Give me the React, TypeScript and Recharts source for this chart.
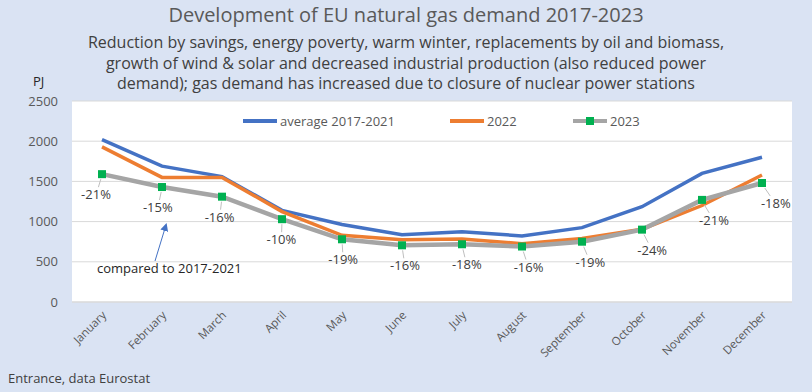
import { LineChart, Line, XAxis, YAxis, CartesianGrid, LabelList } from "recharts";

const months = [
  "January", "February", "March", "April", "May", "June",
  "July", "August", "September", "October", "November", "December",
];
const avg2017to2021 = [2020, 1690, 1560, 1140, 965, 838, 875, 822, 925, 1185, 1600, 1800];
const demand2022 = [1930, 1550, 1550, 1125, 830, 775, 785, 725, 790, 905, 1200, 1580];
const demand2023 = [1590, 1430, 1310, 1030, 780, 705, 718, 690, 750, 900, 1270, 1480];
const changeLabels = ["-21%", "-15%", "-16%", "-10%", "-19%", "-16%", "-18%", "-16%", "-19%", "-24%", "-21%", "-18%"];
const yTicks = [0, 500, 1000, 1500, 2000, 2500];
const subtitleLines = [
  "Reduction by savings, energy poverty, warm winter, replacements by oil and biomass,",
  "growth of wind & solar and decreased industrial production (also reduced power",
  "demand); gas demand has increased due to closure of nuclear power stations",
];

const data = months.map((m, i) => ({
  month: m,
  avg: avg2017to2021[i],
  y2022: demand2022[i],
  y2023: demand2023[i],
}));

const FONT = '"Open Sans", sans-serif';
const BG = "#dae3f3";
const BLUE = "#4472c4";
const ORANGE = "#ed7d31";
const GREY = "#a5a5a5";
const GREEN = "#00b050";

const MonthTick = (props: any) => {
  const { x, y, payload } = props;
  return (
    <text
      transform={`translate(${x + 5},${y + 6}) rotate(-45)`}
      textAnchor="end"
      fontSize={11.5}
      fill="#595959"
      fontFamily={FONT}
    >
      {payload.value}
    </text>
  );
};

const SquareDot = (props: any) => {
  const { cx, cy, index } = props;
  return <rect key={index} x={cx - 4} y={cy - 4} width={8} height={8} fill={GREEN} />;
};

const ChangeLabel = (props: any) => {
  const { x, y, index } = props;
  const dx = -6 + index * 1.8;
  const dy = 21;
  return (
    <g key={index}>
      <line x1={x + dx * 0.2} y1={y + 5} x2={x + dx * 0.6} y2={y + dy - 8} stroke="#bfbfbf" strokeWidth={1} />
      <text x={x + dx} y={y + dy + 4} textAnchor="middle" fontSize={13} fill="#404040" fontFamily={FONT}>
        {changeLabels[index]}
      </text>
    </g>
  );
};

const legendItems = [
  { name: "average 2017-2021", color: BLUE, left: 242, marker: false },
  { name: "2022", color: ORANGE, left: 449, marker: false },
  { name: "2023", color: GREY, left: 572, marker: true },
];

export default function App() {
  return (
    <div
      style={{
        position: "absolute",
        left: 0,
        top: 0,
        width: 812,
        height: 392,
        background: BG,
        overflow: "hidden",
        fontFamily: FONT,
      }}
    >
      <div style={{ position: "absolute", top: 1, width: 812, textAlign: "center", fontSize: 20, color: "#595959" }}>
        Development of EU natural gas demand 2017-2023
      </div>
      <div
        style={{
          position: "absolute",
          top: 32,
          left: 0,
          width: 812,
          textAlign: "center",
          fontSize: 16,
          lineHeight: "20.5px",
          color: "#404040",
        }}
      >
        {subtitleLines.map((line) => (
          <div key={line}>{line}</div>
        ))}
      </div>
      <div style={{ position: "absolute", left: 33, top: 72, fontSize: 13, color: "#262626" }}>PJ</div>

      <div style={{ position: "absolute", left: 0, top: 0 }}>
        <LineChart width={812} height={392} data={data} margin={{ top: 101, right: 20, left: 12, bottom: 30 }}>
          <CartesianGrid vertical={false} stroke="#d9d9d9" fill="#ffffff" />
          <XAxis
            dataKey="month"
            interval={0}
            padding={{ left: 30, right: 30 }}
            height={60}
            tick={<MonthTick />}
            tickLine={false}
            axisLine={{ stroke: "#d9d9d9" }}
          />
          <YAxis
            width={60}
            domain={[0, 2500]}
            ticks={yTicks}
            tickLine={false}
            axisLine={false}
            tickSize={0}
            tickMargin={14}
            tick={{ fontSize: 13, fill: "#595959", fontFamily: FONT }}
          />
          <Line dataKey="avg" stroke={BLUE} strokeWidth={3.5} dot={false} isAnimationActive={false} />
          <Line dataKey="y2022" stroke={ORANGE} strokeWidth={3.5} dot={false} isAnimationActive={false} />
          <Line dataKey="y2023" stroke={GREY} strokeWidth={4.5} dot={<SquareDot />} isAnimationActive={false}>
            <LabelList dataKey="y2023" content={<ChangeLabel />} />
          </Line>
        </LineChart>
      </div>

      {legendItems.map((item) => (
        <div key={item.name} style={{ position: "absolute", left: item.left, top: 113, height: 16, display: "flex", alignItems: "center" }}>
          <svg width={36} height={16}>
            <line x1={1} y1={8} x2={35} y2={8} stroke={item.color} strokeWidth={4} />
            {item.marker && <rect x={14} y={4} width={8} height={8} fill={GREEN} />}
          </svg>
          <span style={{ fontSize: 13, color: "#595959", marginLeft: 2 }}>{item.name}</span>
        </div>
      ))}

      <svg style={{ position: "absolute", left: 0, top: 0 }} width={812} height={392}>
        <defs>
          <marker id="arrowHead" markerWidth="8" markerHeight="8" refX="6" refY="4" orient="auto" markerUnits="userSpaceOnUse">
            <path d="M0,0 L8,4 L0,8 Z" fill={BLUE} />
          </marker>
        </defs>
        <line x1={155} y1={261} x2={166} y2={225} stroke={BLUE} strokeWidth={1} markerEnd="url(#arrowHead)" />
        <text x={97} y={273} fontSize={13} fill="#262626" fontFamily={FONT}>
          compared to 2017-2021
        </text>
        <text x={8} y={383} fontSize={13} fill="#404040" fontFamily={FONT}>
          Entrance, data Eurostat
        </text>
      </svg>
    </div>
  );
}
